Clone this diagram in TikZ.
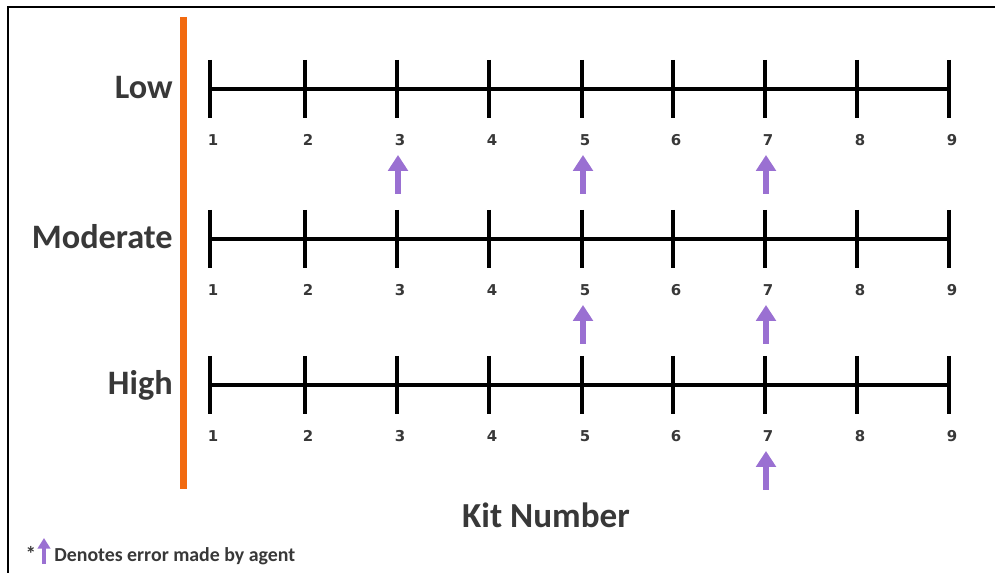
\documentclass[tikz,border=0pt]{standalone}
\usepackage{fontspec}
\setmainfont{Carlito}
\newfontfamily\numfont{DejaVu Sans}
\usetikzlibrary{arrows.meta, calc}

\definecolor{barorange}{HTML}{F26A10}
\definecolor{errpurple}{HTML}{9A70D2}
\definecolor{textgray}{HTML}{383838}

\tikzset{
  axisline/.style={line width=1.9pt},
  tickmark/.style={line width=2.4pt},
  ticklabel/.style={font=\numfont\bfseries\fontsize{8.5}{10}\selectfont, text=textgray, inner sep=0pt},
  levellabel/.style={font=\bfseries\fontsize{19.5}{22}\selectfont, text=textgray, anchor=base east, inner sep=0pt},
  errarrow/.style={errpurple, line width=3.2pt, -{Triangle[width=11pt,length=9pt]}},
}

\begin{document}
\begin{tikzpicture}[x=0.02cm, y=-0.02cm]
  \useasboundingbox (0,0) rectangle (995,573);

  % Frame and the orange separator
  \draw[line width=1.1pt] (8,573) -- (8,7) -- (995,7);
  \coordinate (bartop) at (183.5,17);
  \coordinate (barbot) at (183.5,489);
  \draw[barorange, line width=3.9pt] (bartop) -- (barbot);

  % One number line per level, with the kits that got an error
  \foreach \lvl/\yy/\name/\errs in {low/89/Low/{3,5,7}, mod/239/Moderate/{5,7}, high/385/High/{7}} {
      \foreach \k/\xx in {1/210,2/305,3/397,4/489,5/582,6/673,7/765,8/857,9/949} {
          \coordinate (\lvl-t\k) at (\xx,\yy);
          \coordinate (\lvl-up\k) at (\xx,\yy-29);
          \coordinate (\lvl-dn\k) at (\xx,\yy+29);
          \draw[tickmark] (\lvl-up\k) -- (\lvl-dn\k);
          \node[ticklabel] (\lvl-n\k) at (\xx+3,\yy+51) {\k};
      }
      \draw[axisline] (\lvl-t1) -- (\lvl-t9);
      \node[levellabel] (\lvl-name) at (173,\yy+10) {\name};
      \foreach \e in \errs {
          \coordinate (\lvl-eb\e) at ($(\lvl-t\e)+(1,105)$);
          \coordinate (\lvl-et\e) at ($(\lvl-t\e)+(1,66)$);
          \draw[errarrow] (\lvl-eb\e) -- (\lvl-et\e);
      }
  }

  % Axis title
  \node[font=\bfseries\fontsize{20}{22}\selectfont, text=textgray, anchor=base, inner sep=0pt] (kitnum) at (546,528) {Kit Number};

  % Key
  \node[font=\bfseries\fontsize{12}{14}\selectfont, text=textgray, anchor=base, inner sep=0pt] (star) at (31,562) {*};
  \coordinate (keyb) at (44,564);
  \coordinate (keyt) at (44,538);
  \draw[errpurple, line width=2.2pt, -{Triangle[width=7pt,length=6pt]}] (keyb) -- (keyt);
  \node[font=\bfseries\fontsize{11.3}{13}\selectfont, text=textgray, anchor=base west, inner sep=0pt] (keytext) at (54,562) {Denotes error made by agent};
\end{tikzpicture}
\end{document}
